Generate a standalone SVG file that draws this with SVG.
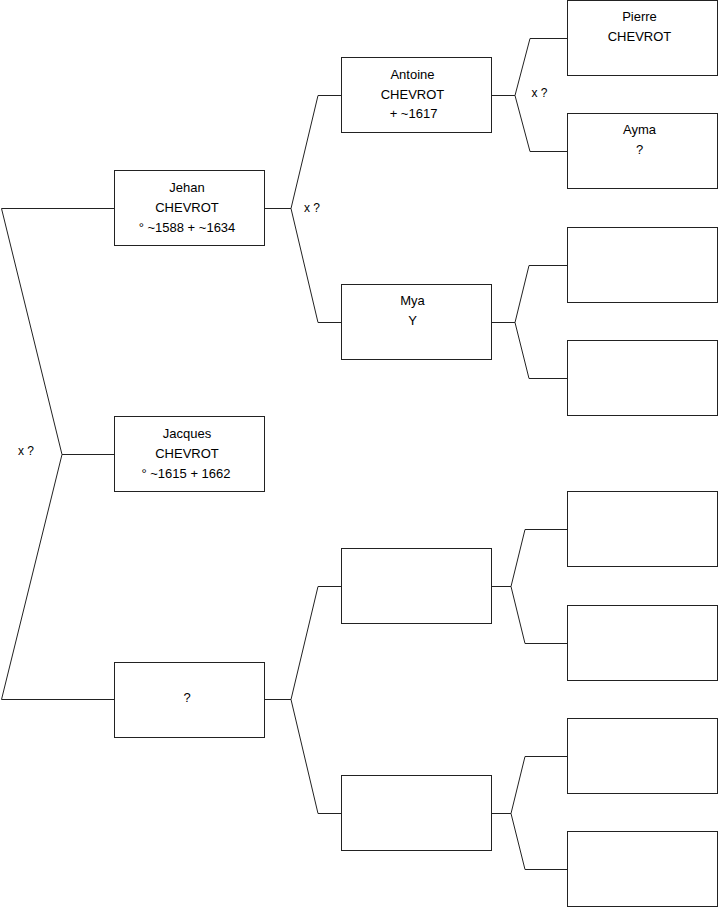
<svg xmlns="http://www.w3.org/2000/svg" width="719" height="908" viewBox="0 0 719 908">
<style>
.box{fill:#fff;stroke:#222;stroke-width:1}
.ln{fill:none;stroke:#222;stroke-width:1}
text{font-family:"Liberation Sans",Arial,sans-serif;font-size:13px;fill:#000;text-anchor:middle}
.lbl{text-anchor:start;font-size:12px}
</style>
<rect width="719" height="908" fill="#fff"/>
<g id="connectors">
<polyline class="ln" points="114,208.5 1.5,208.5 62,454.5 1.5,699.5 114,699.5"/>
<line class="ln" x1="62" y1="454.5" x2="114" y2="454.5"/>
<polyline class="ln" points="341,95.5 318,95.5 291,208.5 318,322.5 341,322.5"/>
<line class="ln" x1="265" y1="208.5" x2="291" y2="208.5"/>
<polyline class="ln" points="341,586.5 318,586.5 291,699.5 318,813.5 341,813.5"/>
<line class="ln" x1="265" y1="699.5" x2="291" y2="699.5"/>
<polyline class="ln" points="567,38.5 530,38.5 515,95.5 530,151.5 567,151.5"/>
<line class="ln" x1="492" y1="95.5" x2="515" y2="95.5"/>
<polyline class="ln" points="567,265.5 529,265.5 515,322.5 529,378.5 567,378.5"/>
<line class="ln" x1="492" y1="322.5" x2="515" y2="322.5"/>
<polyline class="ln" points="567,529.5 525,529.5 511,586.5 525,643.5 567,643.5"/>
<line class="ln" x1="492" y1="586.5" x2="511" y2="586.5"/>
<polyline class="ln" points="567,756.5 525,756.5 511,813.5 525,869.5 567,869.5"/>
<line class="ln" x1="492" y1="813.5" x2="511" y2="813.5"/>
<text class="lbl" x="18" y="455">x ?</text>
<text class="lbl" x="304" y="211.5">x ?</text>
<text class="lbl" x="531.5" y="97">x ?</text>
</g>
<g id="jehan"><rect class="box" x="114.5" y="170.5" width="150" height="75"/><text x="187" y="192">Jehan</text><text x="187" y="212">CHEVROT</text><text x="187" y="232">° ~1588 + ~1634</text></g>
<g id="jacques"><rect class="box" x="114.5" y="416.5" width="150" height="75"/><text x="187" y="438">Jacques</text><text x="187" y="458">CHEVROT</text><text x="186" y="478">° ~1615 + 1662</text></g>
<g id="mother"><rect class="box" x="114.5" y="662.5" width="150" height="75"/><text x="187" y="702">?</text></g>
<g id="antoine"><rect class="box" x="341.5" y="57.5" width="150" height="75"/><text x="412.5" y="79">Antoine</text><text x="412.5" y="98.5">CHEVROT</text><text x="413.5" y="118">+ ~1617</text></g>
<g id="mya"><rect class="box" x="341.5" y="284.5" width="150" height="75"/><text x="412.5" y="305">Mya</text><text x="412.5" y="325">Y</text></g>
<g id="p3"><rect class="box" x="341.5" y="548.5" width="150" height="75"/></g>
<g id="p4"><rect class="box" x="341.5" y="775.5" width="150" height="75"/></g>
<g id="pierre"><rect class="box" x="567.5" y="0.5" width="150" height="75"/><text x="639.5" y="21">Pierre</text><text x="639.5" y="41">CHEVROT</text></g>
<g id="ayma"><rect class="box" x="567.5" y="113.5" width="150" height="75"/><text x="639.5" y="134">Ayma</text><text x="639.5" y="154">?</text></g>
<g id="g3"><rect class="box" x="567.5" y="227.5" width="150" height="75"/></g>
<g id="g4"><rect class="box" x="567.5" y="340.5" width="150" height="75"/></g>
<g id="g5"><rect class="box" x="567.5" y="491.5" width="150" height="75"/></g>
<g id="g6"><rect class="box" x="567.5" y="605.5" width="150" height="75"/></g>
<g id="g7"><rect class="box" x="567.5" y="718.5" width="150" height="75"/></g>
<g id="g8"><rect class="box" x="567.5" y="831.5" width="150" height="75"/></g>
</svg>
